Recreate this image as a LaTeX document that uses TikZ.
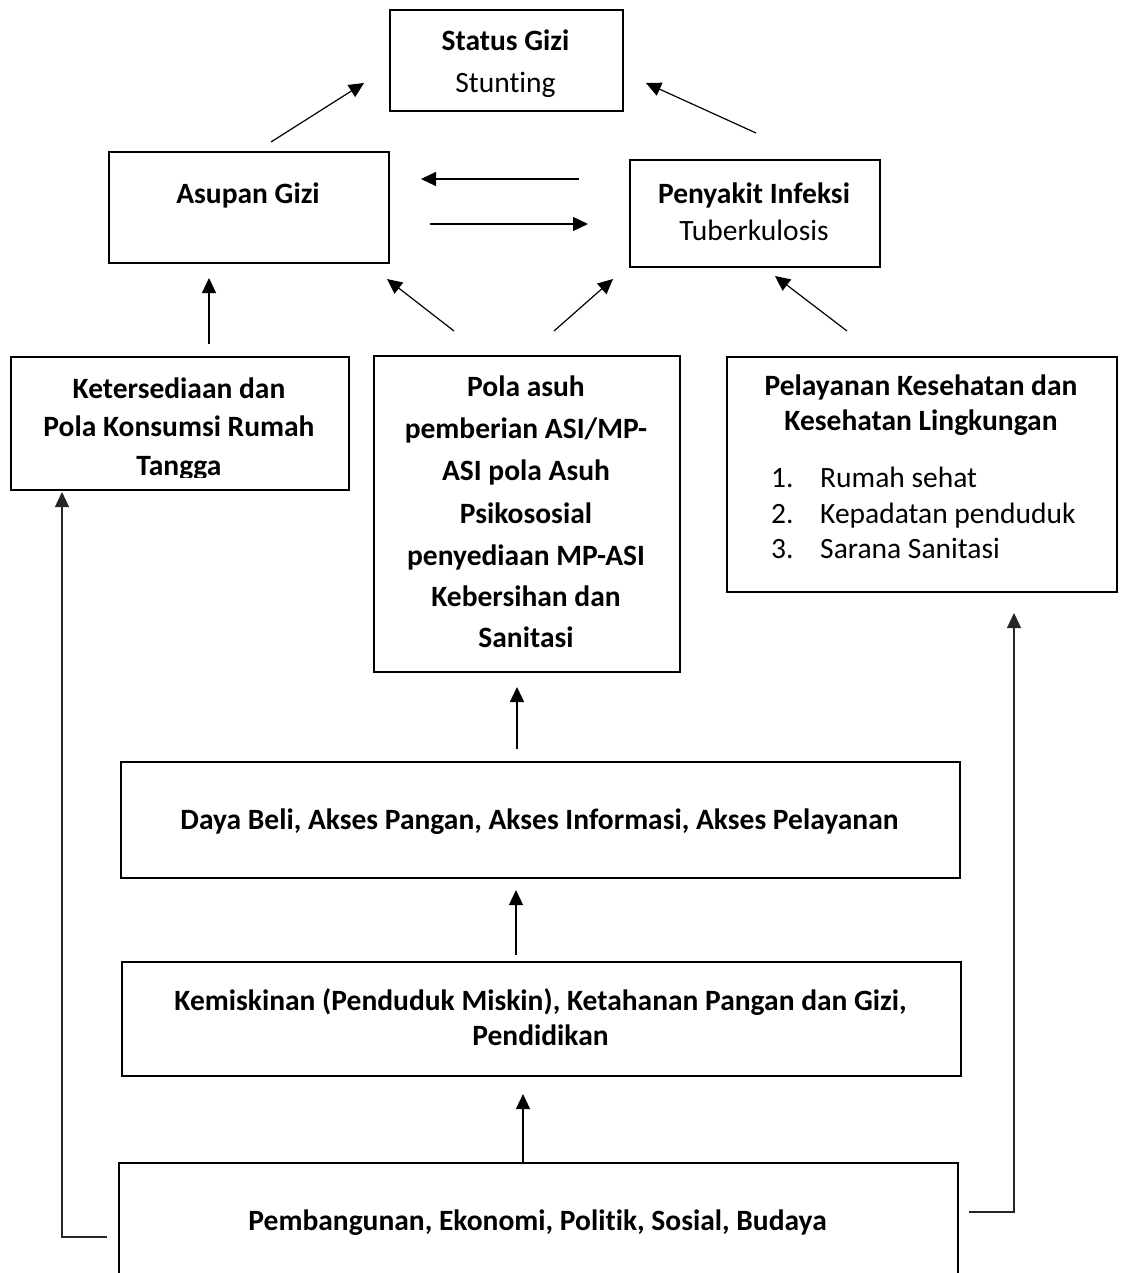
\documentclass[tikz,border=0pt]{standalone}
\usepackage{fontspec}
\setmainfont{Carlito}[Ligatures=NoCommon]
\usetikzlibrary{arrows.meta}
\begin{document}
\begin{tikzpicture}[x=1pt,y=-1pt,
  box/.style={draw=black,line width=2.4pt,inner sep=0pt,anchor=north west},
  txt/.style={anchor=base,inner sep=0pt,font=\fontsize{29.5}{35}\selectfont},
  btxt/.style={txt,font=\fontsize{29.5}{35}\selectfont\bfseries},
  ltxt/.style={txt,anchor=base west},
  arr/.style={line width=1.2pt,-{Triangle[length=15pt,width=14pt]}},
  conn/.style={line width=1.2pt,draw=black!85,-{Triangle[length=15pt,width=14pt]}}]
\useasboundingbox (0,0) rectangle (1122,1273);
\fill[white] (0,0) rectangle (1122,1273);
% boxes
\node[box,minimum width=233pt,minimum height=101pt] (status) at (389,9) {};
\node[box,minimum width=280pt,minimum height=111pt] (asupan) at (108,151) {};
\node[box,minimum width=250pt,minimum height=107pt] (infeksi) at (629,159) {};
\node[box,minimum width=338pt,minimum height=133pt] (sedia) at (10,356) {};
\node[box,minimum width=306pt,minimum height=316pt] (pola) at (373,355) {};
\node[box,minimum width=390pt,minimum height=235pt] (layan) at (726,356) {};
\node[box,minimum width=839pt,minimum height=116pt] (daya) at (120,761) {};
\node[box,minimum width=839pt,minimum height=114pt] (miskin) at (121,961) {};
\node[box,minimum width=839pt,minimum height=140pt] (bangun) at (118,1162) {};
% texts
\node[btxt] (t1) at (505.5,51) {Status Gizi};
\node[txt] (t2) at (505.5,92.7) {Stunting};
\node[btxt] (t3) at (248,204) {Asupan Gizi};
\node[btxt] (t4) at (754,204) {Penyakit Infeksi};
\node[txt] (t5) at (754,240.7) {Tuberkulosis};
\node[btxt] (t6) at (179,398) {Ketersediaan dan};
\node[btxt] (t7) at (179,436.7) {Pola Konsumsi Rumah};
\begin{scope}
\clip (10,356) rectangle (348,477);
\node[btxt] (t8) at (179,475) {Tangga};
\end{scope}
\node[btxt] (p1) at (526,396.7) {Pola asuh};
\node[btxt] (p2) at (526,438) {pemberian ASI/MP-};
\node[btxt] (p3) at (526,480) {ASI pola Asuh};
\node[btxt] (p4) at (526,523) {Psikososial};
\node[btxt] (p5) at (526,565) {penyediaan MP-ASI};
\node[btxt] (p6) at (526,606.7) {Kebersihan dan};
\node[btxt] (p7) at (526,647) {Sanitasi};
\node[btxt] (l1) at (921,395) {Pelayanan Kesehatan dan};
\node[btxt] (l2) at (921,430.7) {Kesehatan Lingkungan};
\node[ltxt] (n1) at (771,487.7) {1.};
\node[ltxt] (n2) at (771,523.3) {2.};
\node[ltxt] (n3) at (771,558.3) {3.};
\node[ltxt] (i1) at (820,487.7) {Rumah sehat};
\node[ltxt] (i2) at (820,523.3) {Kepadatan penduduk};
\node[ltxt] (i3) at (820,558.3) {Sarana Sanitasi};
\node[btxt] (d1) at (539.5,829) {Daya Beli, Akses Pangan, Akses Informasi, Akses Pelayanan};
\node[btxt] (k1) at (540.5,1010) {Kemiskinan (Penduduk Miskin), Ketahanan Pangan dan Gizi,};
\node[btxt] (k2) at (540.5,1045) {Pendidikan};
\node[btxt] (b1) at (537.5,1230) {Pembangunan, Ekonomi, Politik, Sosial, Budaya};
% arrow end points
\coordinate (a1s) at (271,142); \coordinate (a1e) at (364,83);
\coordinate (a2s) at (756,133); \coordinate (a2e) at (646,83);
\coordinate (a3s) at (579,179); \coordinate (a3e) at (421,179);
\coordinate (a4s) at (430,224); \coordinate (a4e) at (588,224);
\coordinate (a5s) at (209,344); \coordinate (a5e) at (209,278);
\coordinate (a6s) at (454,331); \coordinate (a6e) at (387,279);
\coordinate (a7s) at (554,331); \coordinate (a7e) at (613,279);
\coordinate (a8s) at (847,331); \coordinate (a8e) at (775,276);
\coordinate (a9s) at (517,749); \coordinate (a9e) at (517,687);
\coordinate (a10s) at (516,955); \coordinate (a10e) at (516,890);
\coordinate (a11e) at (523,1094);
\coordinate (ls) at (107,1237); \coordinate (lc) at (62,1237); \coordinate (le) at (62,492);
\coordinate (rs) at (969,1212); \coordinate (rc) at (1014,1212); \coordinate (re) at (1014,613);
% connectors
\draw[arr] (a1s) -- (a1e);
\draw[arr] (a2s) -- (a2e);
\draw[arr] (a3s) -- (a3e);
\draw[arr] (a4s) -- (a4e);
\draw[arr] (a5s) -- (a5e);
\draw[arr] (a6s) -- (a6e);
\draw[arr] (a7s) -- (a7e);
\draw[arr] (a8s) -- (a8e);
\draw[arr] (a9s) -- (a9e);
\draw[arr] (a10s) -- (a10e);
\draw[arr] (bangun.north west -| a11e) -- (a11e);
\draw[conn] (ls) -- (lc) -- (le);
\draw[conn] (rs) -- (rc) -- (re);
\end{tikzpicture}
\end{document}
